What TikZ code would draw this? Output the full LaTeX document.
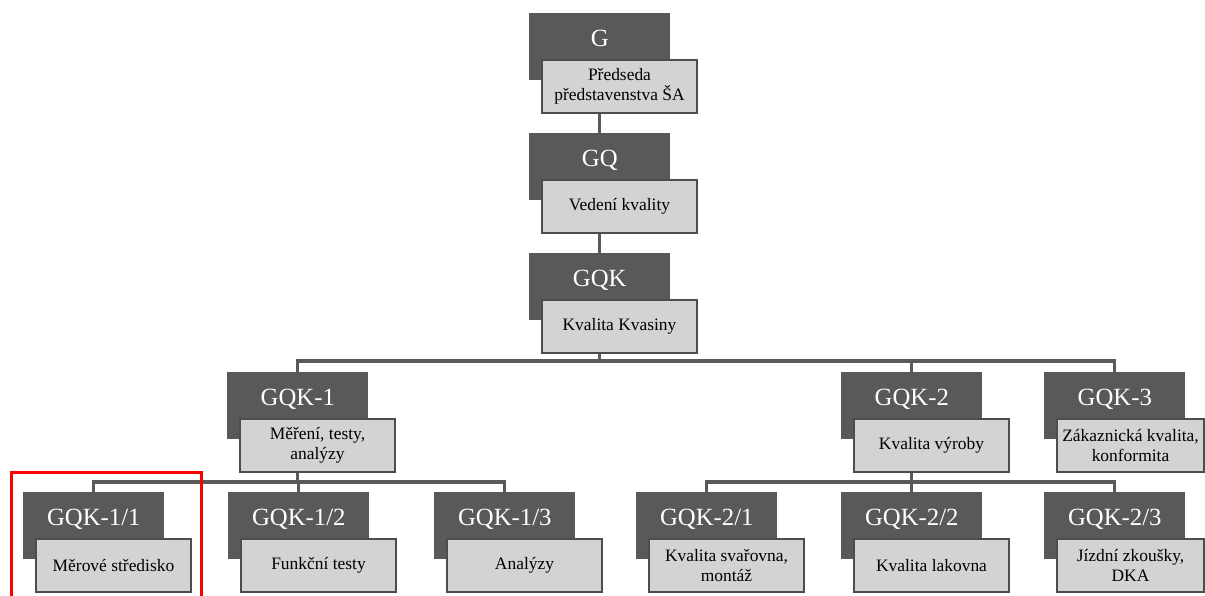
\documentclass[tikz,border=0pt]{standalone}
\usepackage{fontspec}
\setmainfont{Liberation Serif}
\usepackage{xcolor}
\usetikzlibrary{positioning, calc}

\definecolor{codegray}{HTML}{595959}
\definecolor{descgray}{HTML}{D3D3D3}
\definecolor{edgegray}{HTML}{4D4D4D}
\definecolor{linegray}{HTML}{5A5A5A}

\begin{document}
\begin{tikzpicture}[x=0.025cm, y=-0.025cm,
    code/.style={rectangle, fill=codegray, anchor=north west, inner sep=0pt,
                 minimum width=3.525cm, text height=0.825cm, text depth=0.85cm,
                 text=white, font=\fontsize{17.6}{20}\selectfont},
    desc/.style={rectangle, draw=edgegray, line width=1.4pt, fill=descgray,
                 anchor=north west, inner sep=1pt,
                 minimum width=3.875cm, minimum height=1.325cm,
                 align=center, font=\fontsize{12.4}{13.8}\selectfont},
    narrow/.style={minimum width=3.675cm},
    conn/.style={draw=linegray, line width=2.4pt},
    hilite/.style={draw=red, line width=2.4pt},
  ]
    \useasboundingbox (0,0) rectangle (1205,596);

    % Top chain
    \node[code] (g) at (529,13) {G};
    \node[desc] (g-d) at ([shift={(12,46)}]g.north west)
      {Předseda\\představenstva ŠA};
    \node[code] (gq) at (529,133) {GQ};
    \node[desc] (gq-d) at ([shift={(12,46)}]gq.north west) {Vedení kvality};
    \node[code] (gqk) at (529,253) {GQK};
    \node[desc] (gqk-d) at ([shift={(12,46)}]gqk.north west) {Kvalita Kvasiny};

    % Second level
    \node[code] (gqk1) at (227,372) {GQK-1};
    \node[desc] (gqk1-d) at ([shift={(12,46)}]gqk1.north west)
      {Měření, testy,\\analýzy};
    \node[code] (gqk2) at (841,372) {GQK-2};
    \node[desc] (gqk2-d) at ([shift={(12,46)}]gqk2.north west) {Kvalita výroby};
    \node[code] (gqk3) at (1044,372) {GQK-3};
    \node[desc, narrow] (gqk3-d) at ([shift={(12,46)}]gqk3.north west)
      {Zákaznická kvalita,\\konformita};

    % Third level
    \node[code] (gqk11) at (23,492) {GQK-1/1};
    \node[desc] (gqk11-d) at ([shift={(12,46)}]gqk11.north west) {Měrové středisko};
    \node[code] (gqk12) at (228,492) {GQK-1/2};
    \node[desc] (gqk12-d) at ([shift={(12,46)}]gqk12.north west) {Funkční testy};
    \node[code] (gqk13) at (434,492) {GQK-1/3};
    \node[desc] (gqk13-d) at ([shift={(12,46)}]gqk13.north west) {Analýzy};
    \node[code] (gqk21) at (636,492) {GQK-2/1};
    \node[desc] (gqk21-d) at ([shift={(12,46)}]gqk21.north west)
      {Kvalita svařovna,\\montáž};
    \node[code] (gqk22) at (841,492) {GQK-2/2};
    \node[desc] (gqk22-d) at ([shift={(12,46)}]gqk22.north west) {Kvalita lakovna};
    \node[code] (gqk23) at (1044,492) {GQK-2/3};
    \node[desc, narrow] (gqk23-d) at ([shift={(12,46)}]gqk23.north west)
      {Jízdní zkoušky,\\DKA};

    % Connectors
    \coordinate (bus1) at (0,361);
    \coordinate (bus2) at (0,482);
    \draw[conn] (g-d.south -| g) -- (gq.north);
    \draw[conn] (gq-d.south -| gq) -- (gqk.north);
    \draw[conn] (gqk-d.south -| gqk) -- (gqk |- bus1);
    \draw[conn] (gqk1.north) |- (gqk3 |- bus1) -- (gqk3.north);
    \draw[conn] (gqk2 |- bus1) -- (gqk2.north);
    \draw[conn] (gqk1-d.south -| gqk1) -- (gqk1 |- bus2);
    \draw[conn] (gqk11.north) |- (gqk13 |- bus2) -- (gqk13.north);
    \draw[conn] (gqk12 |- bus2) -- (gqk12.north);
    \draw[conn] (gqk2-d.south -| gqk2) -- (gqk2 |- bus2);
    \draw[conn] (gqk21.north) |- (gqk23 |- bus2) -- (gqk23.north);
    \draw[conn] (gqk22 |- bus2) -- (gqk22.north);

    % Highlight
    \draw[hilite] (11.5,472.5) rectangle (201.5,620);
\end{tikzpicture}
\end{document}
